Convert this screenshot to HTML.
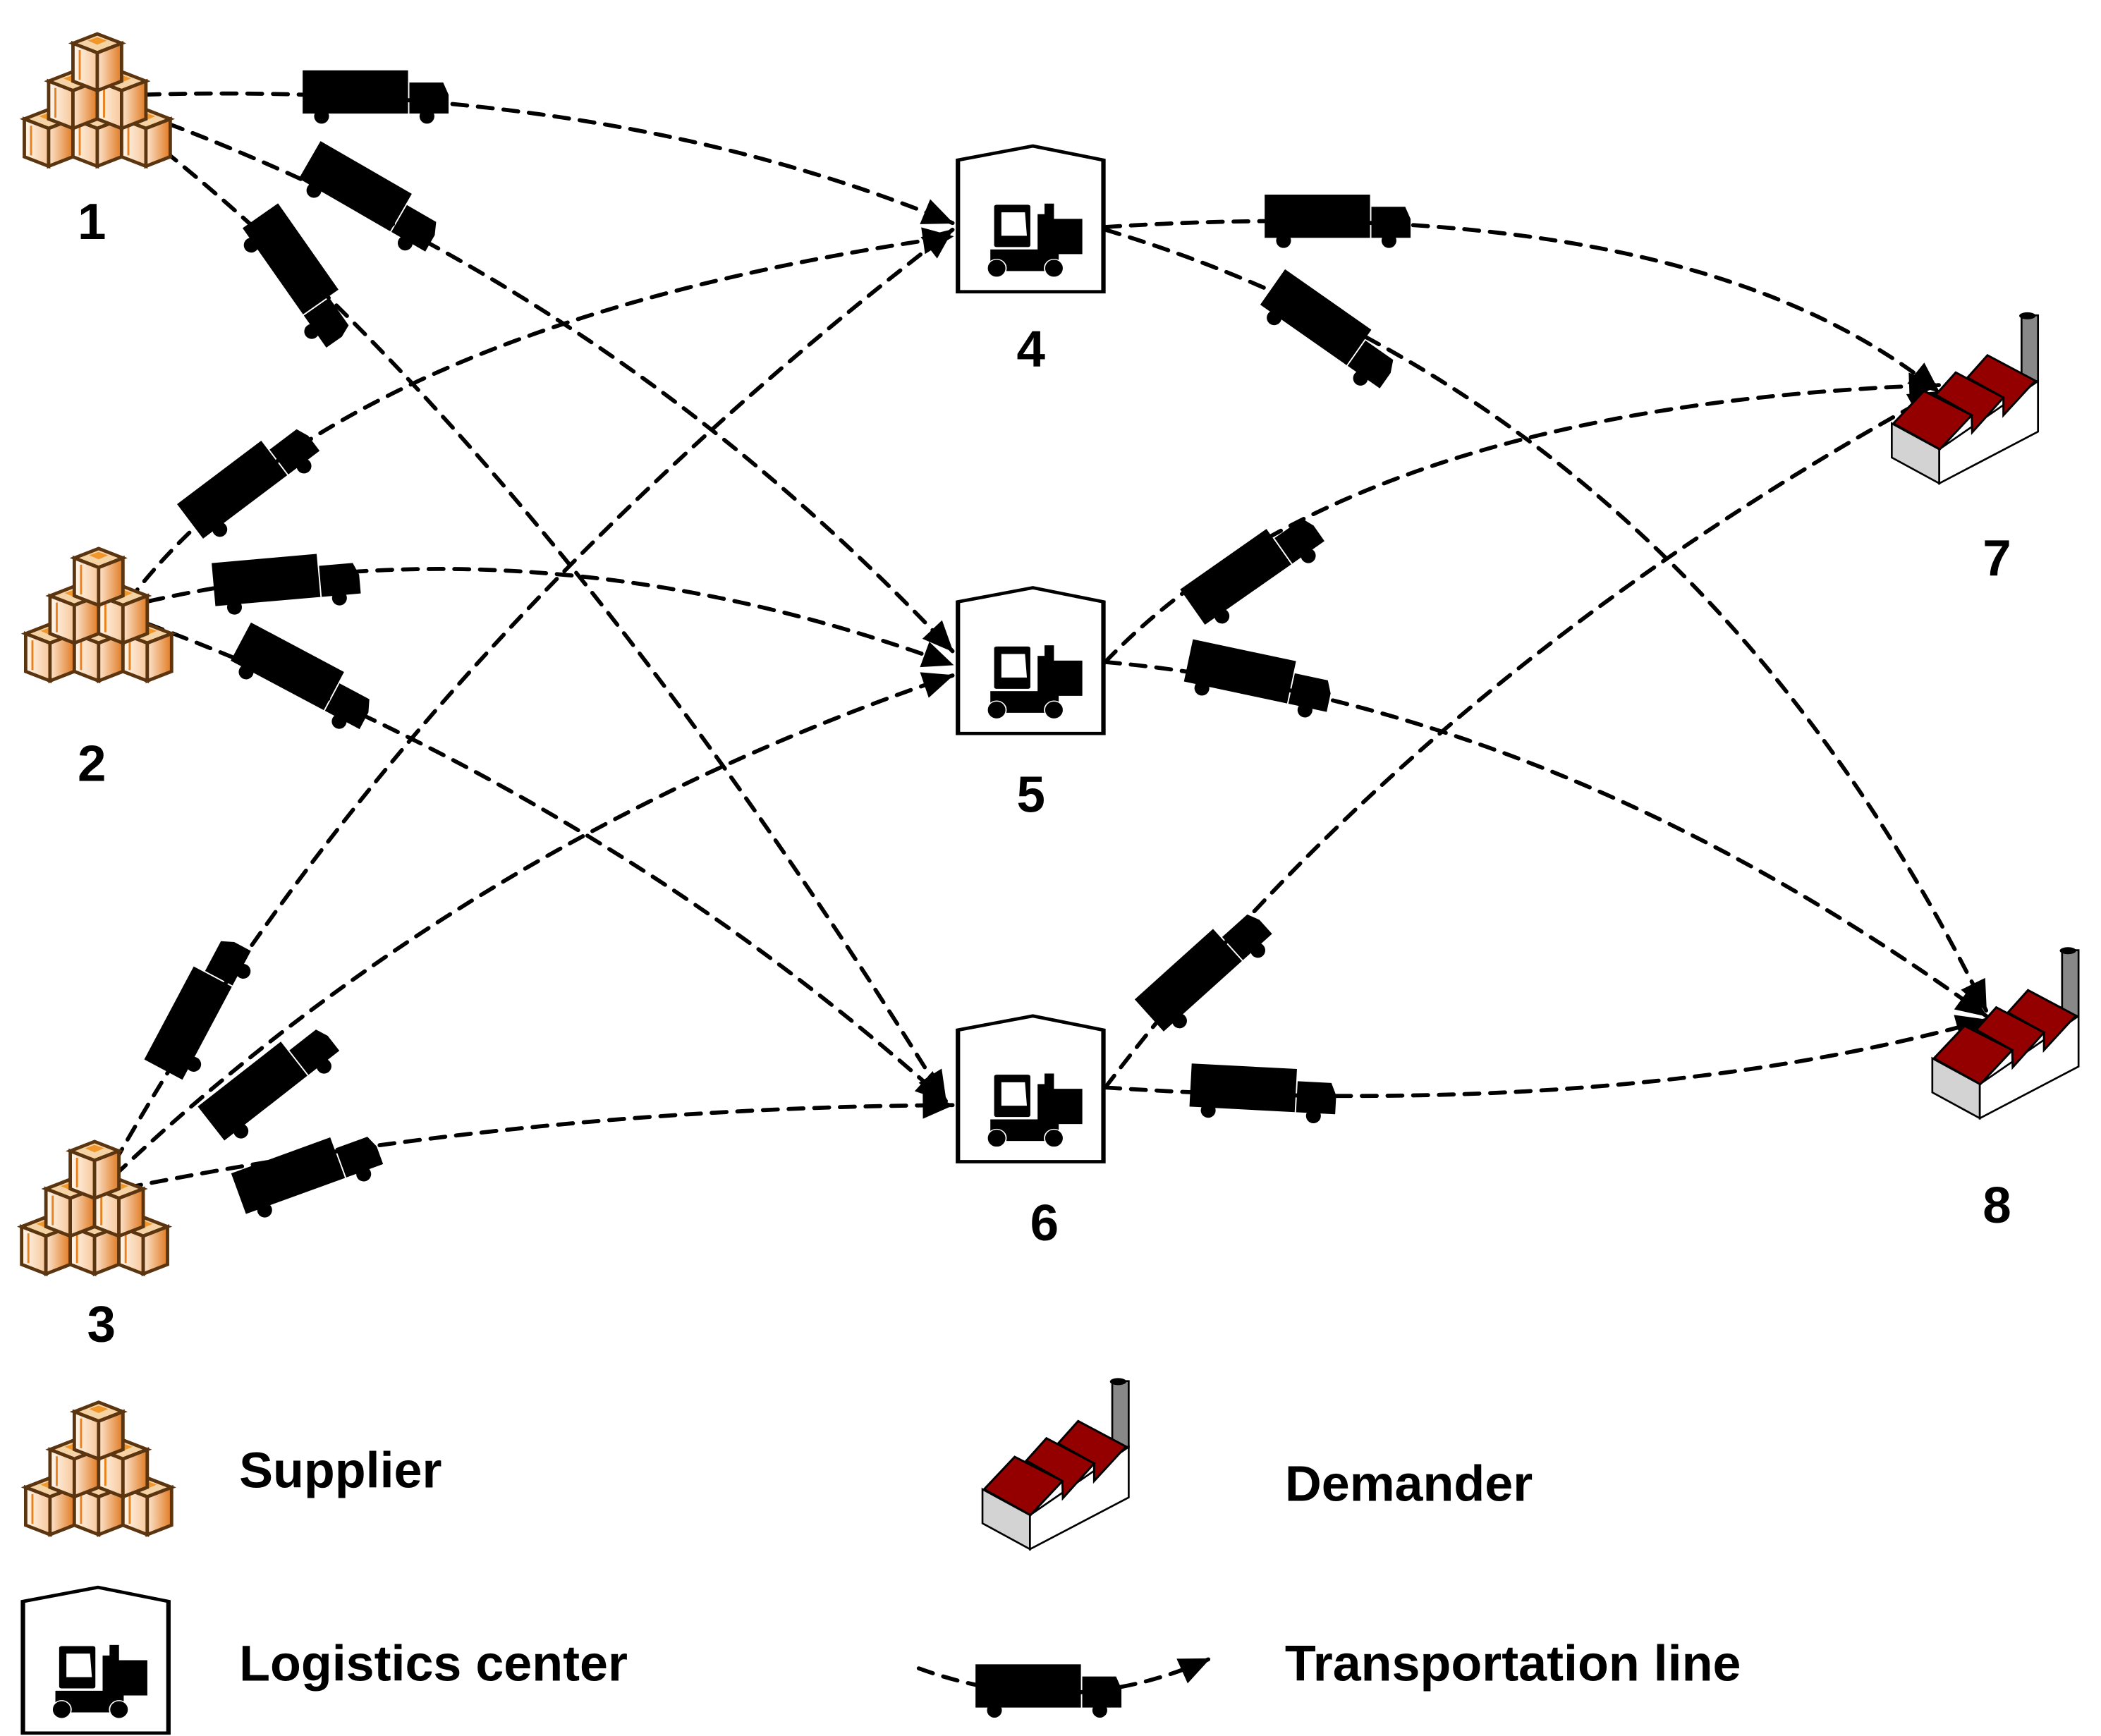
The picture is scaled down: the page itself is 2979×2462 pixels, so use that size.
<!DOCTYPE html>
<html><head><meta charset="utf-8"><style>
html,body{margin:0;padding:0;background:#fff;}
svg{display:block;}
text{font-family:"Liberation Sans",Arial,sans-serif;font-weight:bold;fill:#000;}
</style></head><body>
<svg width="2979" height="2462" viewBox="0 0 1555 1285" xmlns="http://www.w3.org/2000/svg">
<defs>
<linearGradient id="lf" x1="0" x2="1" y1="0" y2="0"><stop offset="0" stop-color="#fff8ee"/><stop offset="1" stop-color="#f7c79a"/></linearGradient>
<linearGradient id="rf" x1="0" x2="1" y1="0" y2="0"><stop offset="0" stop-color="#fde6d0"/><stop offset="1" stop-color="#e07a22"/></linearGradient>
<marker id="ah" markerWidth="40" markerHeight="40" refX="0" refY="0" markerUnits="userSpaceOnUse" orient="auto" style="overflow:visible">
<path d="M-22,-10 L1,0 L-22,10 Z" fill="#000" stroke="none"/>
</marker>
<g id="box">
<polygon points="0,7 18,0 36,7 18,14" fill="#f6d3a4" stroke="#5a3510" stroke-width="2.5"/>
<polygon points="11,5 18,2.5 25,5 18,8" fill="#f0962a"/>
<polygon points="0,7 18,14 18,42 0,35" fill="url(#lf)" stroke="#5a3510" stroke-width="2.5"/>
<polygon points="18,14 36,7 36,35 18,42" fill="url(#rf)" stroke="#5a3510" stroke-width="2.5"/>
<line x1="5" y1="12" x2="5" y2="34" stroke="#e8801e" stroke-width="1.5"/>
</g>
<g id="sup">
<use href="#box" x="0" y="63"/><use href="#box" x="36" y="63"/><use href="#box" x="72" y="63"/>
<use href="#box" x="18" y="35"/><use href="#box" x="54" y="35"/>
<use href="#box" x="36" y="7"/>
</g>
<g id="truck">
<rect x="-54" y="-18" width="78" height="32" fill="#000"/>
<path d="M25,-9 L50,-9 L54,0 L54,14 L25,14 Z" fill="#000"/>
<circle cx="-40" cy="16" r="5.5" fill="#000"/><circle cx="38" cy="16" r="5.5" fill="#000"/>
</g>
<g id="wh">
<polygon points="105,140 343,80 567,140 567,700 105,700" fill="#fff" stroke="#000" stroke-width="14"/>
<rect x="220" y="330" width="115" height="180" rx="8" fill="#000"/>
<polygon points="243,362 318,362 324,462 243,462" fill="#fff"/>
<rect x="358" y="370" width="24" height="170" fill="#000"/>
<rect x="380" y="325" width="30" height="215" fill="#000"/>
<rect x="380" y="390" width="120" height="150" fill="#000"/>
<rect x="208" y="520" width="217" height="92" fill="#000"/>
<ellipse cx="228" cy="600" rx="30" ry="38" fill="#000" stroke="#fff" stroke-width="4"/>
<ellipse cx="410" cy="600" rx="30" ry="38" fill="#000" stroke="#fff" stroke-width="4"/>
</g>
<g id="fac">
<rect x="800" y="140" width="70" height="280" fill="#888" stroke="#000" stroke-width="8"/>
<ellipse cx="825" cy="142" rx="35" ry="15" fill="#000"/>
<polygon points="248,600 450,710 450,855 248,745" fill="#d3d3d3" stroke="#000" stroke-width="8"/>
<polygon points="450,710 870,420 870,635 450,855" fill="#fff" stroke="#000" stroke-width="8"/>
<polygon points="570,405 655,310 858,418 723,565 723,490" fill="#940000" stroke="#000" stroke-width="9"/>
<polygon points="435,478 520,383 723,490 590,638 588,565" fill="#940000" stroke="#000" stroke-width="9"/>
<polygon points="255,600 385,462 588,565 452,710" fill="#940000" stroke="#000" stroke-width="9"/>
</g>
</defs>

<g fill="none" stroke="#000" stroke-width="3" stroke-dasharray="11 8" stroke-linecap="round" marker-end="url(#ah)">
<path d="M107,70 Q450,60 705,165"/>
<path d="M107,85 Q450,210 705,482"/>
<path d="M107,100 Q400,330 700,815"/>
<path d="M95,445 Q250,240 705,175"/>
<path d="M110,445 Q400,380 705,492"/>
<path d="M110,462 Q450,590 700,815"/>
<path d="M85,860 Q300,480 705,170"/>
<path d="M85,870 Q350,620 705,500"/>
<path d="M75,883 Q380,820 705,818"/>
<path d="M818,168 Q1250,140 1435,290"/>
<path d="M818,170 Q1250,300 1470,748"/>
<path d="M818,490 Q1000,300 1435,285"/>
<path d="M818,490 Q1150,520 1470,752"/>
<path d="M818,805 Q1050,500 1435,290"/>
<path d="M818,805 Q1200,830 1470,755"/>
<path d="M680,1235 Q790,1275 895,1228"/>
</g>

<use href="#truck" transform="translate(278,70)"/>
<use href="#truck" transform="translate(275,147) rotate(30)"/>
<use href="#truck" transform="translate(222,205) rotate(55)"/>
<use href="#truck" transform="translate(185,355) rotate(-37)"/>
<use href="#truck" transform="translate(212,430) rotate(-5)"/>
<use href="#truck" transform="translate(225,502) rotate(28)"/>
<use href="#truck" transform="translate(148,745) rotate(-62)"/>
<use href="#truck" transform="translate(200,800) rotate(-38)"/>
<use href="#truck" transform="translate(228,867) rotate(-20)"/>
<use href="#truck" transform="translate(990,162)"/>
<use href="#truck" transform="translate(985,245) rotate(35)"/>
<use href="#truck" transform="translate(928,420) rotate(-35)"/>
<use href="#truck" transform="translate(932,502) rotate(12)"/>
<use href="#truck" transform="translate(892,717) rotate(-42)"/>
<use href="#truck" transform="translate(935,808) rotate(3)"/>
<use href="#truck" transform="translate(776,1250)"/>

<use href="#sup" transform="translate(18,18)"/>
<use href="#sup" transform="translate(19,399)"/>
<use href="#sup" transform="translate(16,838)"/>
<use href="#sup" transform="translate(19,1031)"/>

<use href="#wh" transform="translate(684.5,94.1) scale(0.2331,0.174)"/>
<use href="#wh" transform="translate(684.5,421.1) scale(0.2331,0.174)"/>
<use href="#wh" transform="translate(684.5,738.1) scale(0.2331,0.174)"/>
<use href="#wh" transform="translate(-7.5,1161.1) scale(0.2331,0.174)"/>

<use href="#fac" transform="translate(1357,209) scale(0.174)"/>
<use href="#fac" transform="translate(1387,679) scale(0.174)"/>
<use href="#fac" transform="translate(684,998) scale(0.174)"/>

<g font-size="38" text-anchor="middle">
<text x="68" y="177">1</text>
<text x="68" y="578">2</text>
<text x="75" y="993">3</text>
<text x="763" y="271">4</text>
<text x="763" y="601">5</text>
<text x="773" y="918">6</text>
<text x="1478" y="426">7</text>
<text x="1478" y="905">8</text>
</g>
<g font-size="37.5">
<text x="177" y="1101">Supplier</text>
<text x="177" y="1244">Logistics center</text>
<text x="951" y="1111">Demander</text>
<text x="951" y="1244">Transportation line</text>
</g>
</svg>
</body></html>
